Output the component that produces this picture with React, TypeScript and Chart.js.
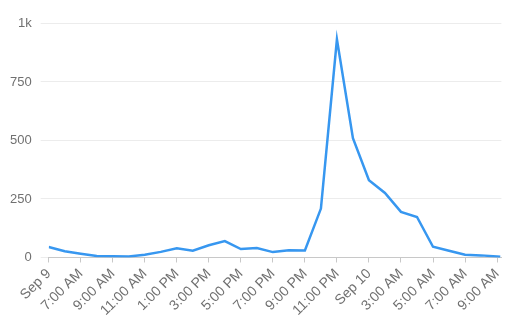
import React, { useEffect, useRef } from "react";
import { Chart, registerables } from "chart.js";

Chart.register(...registerables);

// Hours since Sep 9 00:00 (5 = Sep 9 5:00 AM, 33 = Sep 10 9:00 AM)
const hours = [5, 6, 7, 8, 9, 10, 11, 12, 13, 14, 15, 16, 17, 18, 19, 20, 21, 22, 23, 24, 25, 26, 27, 28, 29, 30, 31, 32, 33, 33.2];
const values = [45, 27, 16, 6, 5, 4, 12, 24, 39, 29, 52, 70, 36, 40, 23, 31, 30, 209, 932, 510, 330, 276, 195, 173, 46, 29, 12, 9, 4, 3];

const tickHours = [5, 7, 9, 11, 13, 15, 17, 19, 21, 23, 25, 27, 29, 31, 33];
const tickLabels = ["Sep 9", "7:00 AM", "9:00 AM", "11:00 AM", "1:00 PM", "3:00 PM", "5:00 PM", "7:00 PM", "9:00 PM", "11:00 PM", "Sep 10", "3:00 AM", "5:00 AM", "7:00 AM", "9:00 AM"];
const yTicks = [0, 250, 500, 750, 1000];

export default function App() {
  const ref = useRef<HTMLCanvasElement>(null);
  useEffect(() => {
    document.body.style.margin = "0";
    const chart = new Chart(ref.current!, {
      type: "line",
      data: {
        datasets: [
          {
            data: hours.map((h, i) => ({ x: h, y: values[i] })),
            borderColor: "#3797f0",
            borderWidth: 2.5,
            pointRadius: 0,
            tension: 0,
            fill: false,
          },
        ],
      },
      options: {
        animation: false,
        responsive: false,
        layout: { padding: { left: 1, right: 7, top: 23.5, bottom: 10 } },
        plugins: { legend: { display: false }, tooltip: { enabled: false } },
        scales: {
          x: {
            type: "linear",
            min: 5,
            max: 33.27,
            afterBuildTicks: (scale: any) => {
              scale.ticks = tickHours.map((v) => ({ value: v }));
            },
            ticks: {
              autoSkip: false,
              maxRotation: 45,
              minRotation: 45,
              color: "#707070",
              font: { family: "Liberation Sans, Arial", size: 14 },
              padding: 3,
              callback: (v: any) => {
                const idx = tickHours.indexOf(Number(v));
                return idx >= 0 ? tickLabels[idx] : null;
              },
            },
            grid: {
              display: true,
              drawOnChartArea: false,
              drawTicks: true,
              tickLength: 5,
              color: "#c8c8c8",
            },
            border: { display: true, color: "#c8c8c8" },
          },
          y: {
            min: 0,
            max: 1000,
            afterBuildTicks: (scale: any) => {
              scale.ticks = yTicks.map((v) => ({ value: v }));
            },
            ticks: {
              color: "#707070",
              font: { family: "Liberation Sans, Arial", size: 13 },
              padding: 9,
              callback: (v: any) => (Number(v) >= 1000 ? Number(v) / 1000 + "k" : String(v)),
            },
            grid: { color: "#ececec", tickLength: 8 },
            border: { display: false },
          },
        },
      },
    });
    return () => chart.destroy();
  }, []);
  return (
    <div style={{ width: 512, height: 332 }}>
      <canvas ref={ref} width={512} height={332} />
    </div>
  );
}
